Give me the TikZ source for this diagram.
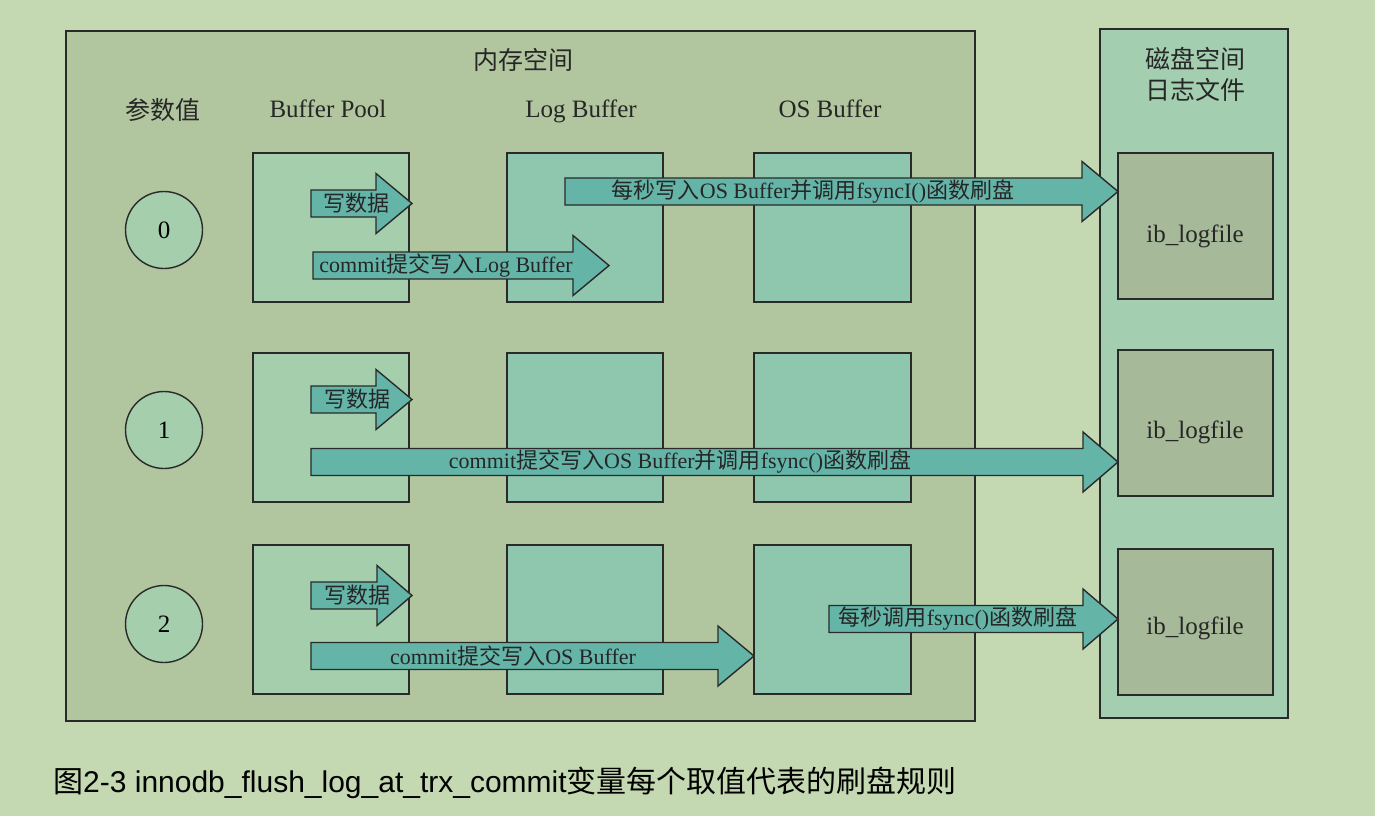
\documentclass[tikz,border=0pt]{standalone}
\usepackage{fontspec}
\setmainfont{Liberation Serif}
\newfontfamily\cjk{Noto Sans CJK SC}
\newfontfamily\capfont{Liberation Sans}
\definecolor{bgc}{HTML}{C4D9B2}
\definecolor{memc}{HTML}{B1C69F}
\definecolor{bpc}{HTML}{A4CEAC}
\definecolor{bufc}{HTML}{8FC7AE}
\definecolor{diskc}{HTML}{A3CEB0}
\definecolor{ibc}{HTML}{A6B998}
\definecolor{arrc}{HTML}{64B4A8}
\definecolor{lc}{HTML}{2A2A2A}
\tikzset{
  box/.style={draw=lc, line width=1.4pt, inner sep=0pt, outer sep=0pt, anchor=north west},
  circ/.style={draw=lc, line width=1.4pt, circle, fill=bpc, minimum size=77pt, inner sep=0pt, font=\fontsize{25}{25}\selectfont},
  head/.style={font=\fontsize{25}{25}\selectfont, text=black!85},
  lhead/.style={head, anchor=base},
  arr/.style={draw=lc, line width=1.4pt, fill=arrc, line join=miter},
  atext/.style={font=\fontsize{22}{22}\selectfont, inner sep=0pt, text=black!85},
}
\newcommand\blkarrow[6]{%
  \draw[arr] (#1,#4-13.5) -- (#2,#4-13.5) -- (#2,#4-30) -- (#3,#4) -- (#2,#4+30) -- (#2,#4+13.5) -- (#1,#4+13.5) -- cycle;
  \node[atext] at (#5,#4) {#6};}
\begin{document}
\begin{tikzpicture}[x=1pt,y=-1pt]
\useasboundingbox (0,0) rectangle (1375,816);
\fill[bgc] (0,0) rectangle (1375,816);
% areas
\node[box, fill=memc, minimum width=909pt, minimum height=690pt] (mem) at (66,31) {};
\node[box, fill=diskc, minimum width=188pt, minimum height=689pt] (disk) at (1100,29) {};
% headings
\node[head] (tmem) at (523,60) {\cjk 内存空间};
\node[head] (tpar) at (163,110) {\cjk 参数值};
\node[lhead] (tbp) at (328,117) {Buffer Pool};
\node[lhead] (tlb) at (581,117) {Log Buffer};
\node[lhead] (tos) at (830,117) {OS Buffer};
\node[head] (tdisk1) at (1195,59) {\cjk 磁盘空间};
\node[head] (tdisk2) at (1195,90) {\cjk 日志文件};
% row boxes
\foreach \r/\y/\iy/\cy/\by in {0/153/153/230/242, 1/353/350/430/438, 2/545/549/624/634}{
  \node[box, fill=bpc, minimum width=156pt, minimum height=149pt] (bp\r) at (253,\y) {};
  \node[box, fill=bufc, minimum width=156pt, minimum height=149pt] (lb\r) at (507,\y) {};
  \node[box, fill=bufc, minimum width=157pt, minimum height=149pt] (os\r) at (754,\y) {};
  \node[box, fill=ibc, minimum width=155pt, minimum height=146pt] (ib\r) at (1118,\iy) {};
  \node[lhead] (ibt\r) at (1195,\by) {ib\_logfile};
  \node[circ] (c\r) at (164,\cy) {\r};
}
% arrows row 0
\blkarrow{311}{376}{412}{203.5}{356}{\cjk 写数据}
\blkarrow{313}{573}{609}{265.5}{446}{commit{\cjk 提交写入}Log Buffer}
\blkarrow{565}{1082}{1118}{191.5}{813}{{\cjk 每秒写入}OS Buffer{\cjk 并调用}fsyncI(){\cjk 函数刷盘}}
% row 1
\blkarrow{311}{376}{412}{399.5}{357}{\cjk 写数据}
\blkarrow{311}{1083}{1118}{462}{680}{commit{\cjk 提交写入}OS Buffer{\cjk 并调用}fsync(){\cjk 函数刷盘}}
% row 2
\blkarrow{311}{377}{412}{595.5}{357}{\cjk 写数据}
\blkarrow{311}{718}{754}{656}{513}{commit{\cjk 提交写入}OS Buffer}
\blkarrow{829}{1083}{1118}{619}{958}{{\cjk 每秒调用}fsync(){\cjk 函数刷盘}}
% caption
\node[anchor=west, inner sep=0pt, font=\capfont\fontsize{30}{30}\selectfont] (cap) at (53,783) {{\cjk 图}2-3 innodb\_flush\_log\_at\_trx\_commit{\cjk 变量每个取值代表的刷盘规则}};
\end{tikzpicture}
\end{document}
